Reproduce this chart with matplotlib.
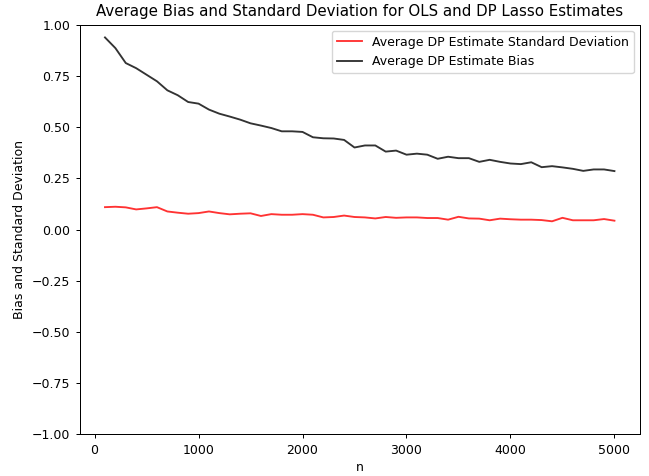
import numpy as np
import matplotlib.pyplot as plt

# sample sizes used in the simulation
n_values = np.arange(100, 5001, 100)

# average standard deviation of the DP lasso estimates
avg_sd = [0.109, 0.111, 0.108, 0.098, 0.103, 0.109, 0.088, 0.082, 0.077, 0.080,
          0.088, 0.080, 0.074, 0.077, 0.079, 0.066, 0.075, 0.072, 0.072, 0.075,
          0.072, 0.059, 0.061, 0.068, 0.061, 0.059, 0.054, 0.061, 0.057, 0.059,
          0.059, 0.056, 0.056, 0.048, 0.062, 0.054, 0.053, 0.045, 0.053, 0.050,
          0.048, 0.048, 0.046, 0.040, 0.057, 0.045, 0.045, 0.045, 0.051, 0.043]

# average bias of the DP lasso estimates
avg_bias = [0.937, 0.885, 0.812, 0.787, 0.755, 0.723, 0.679, 0.655, 0.622, 0.614,
            0.585, 0.565, 0.551, 0.536, 0.518, 0.507, 0.495, 0.479, 0.479, 0.476,
            0.450, 0.445, 0.444, 0.437, 0.400, 0.410, 0.410, 0.380, 0.385, 0.365,
            0.370, 0.365, 0.345, 0.355, 0.348, 0.348, 0.330, 0.340, 0.330, 0.322,
            0.319, 0.328, 0.304, 0.309, 0.303, 0.296, 0.286, 0.293, 0.293, 0.285]

fs = 0.9  # overall scale for text and line sizes

fig = plt.figure(figsize=(6.49, 4.76), dpi=100)
ax = fig.add_axes([0.1225, 0.0872, 0.8635, 0.8613])

ax.plot(n_values, avg_sd, color='red', alpha=0.8, lw=1.5 * fs,
        label='Average DP Estimate Standard Deviation')
ax.plot(n_values, avg_bias, color='black', alpha=0.8, lw=1.5 * fs,
        label='Average DP Estimate Bias')

ax.set_ylim(-1, 1)
ax.set_yticks(np.arange(-1, 1.01, 0.25))
ax.set_xlabel('n', fontsize=10 * fs, labelpad=3)
ax.set_ylabel('Bias and Standard Deviation', fontsize=10 * fs)
ax.set_title('Average Bias and Standard Deviation for OLS and DP Lasso Estimates',
             fontsize=12 * fs)
ax.tick_params(labelsize=10 * fs, length=3.5 * fs, width=0.8 * fs)
for side in ax.spines.values():
    side.set_linewidth(0.8 * fs)
ax.legend(loc='upper right', fontsize=10 * fs)

fig.savefig('out.png', dpi=100)
